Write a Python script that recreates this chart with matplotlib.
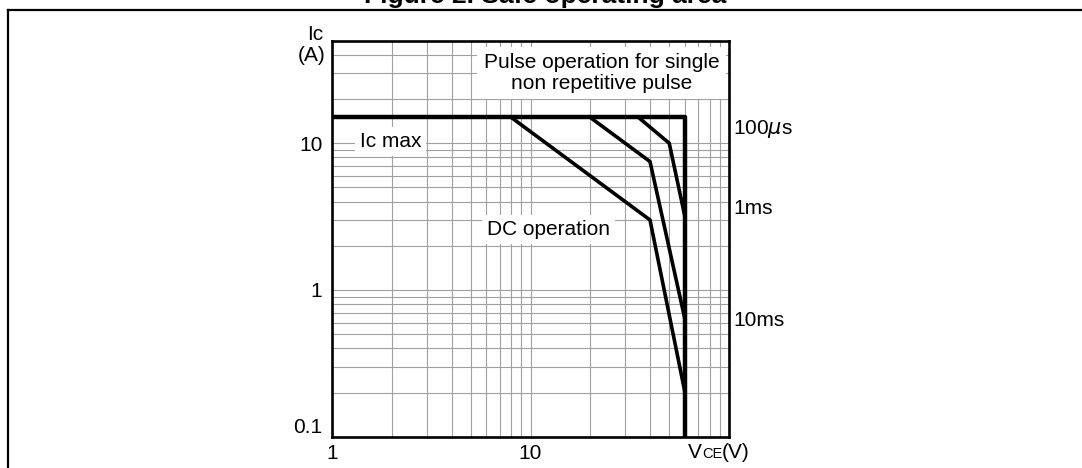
import matplotlib
matplotlib.use('Agg')
import matplotlib.pyplot as plt
from matplotlib.ticker import LogLocator, NullFormatter, FixedLocator, FixedFormatter
from matplotlib.lines import Line2D

plt.rcParams['font.family'] = ['Liberation Sans', 'DejaVu Sans']

# ---- data ----
boundary_v = [1, 60, 60]
boundary_i = [15, 15, 0.1]
dc_v = [8, 40, 60]
dc_i = [15, 3.0, 0.2]
ms1_v = [20, 40, 60]
ms1_i = [15, 7.5, 0.63]
us100_v = [35, 50, 60]
us100_i = [15, 10, 3.15]
x_ticks = [1, 10]
x_ticklabels = ['1', '10']
y_ticks = [0.1, 1, 10]
y_ticklabels = ['0.1', '1', '10']
pulse_labels = ['100$\\mu$s', '1ms', '10ms']
pulse_label_y = [12.5, 3.6, 0.62]

W, H = 1082, 468
fig = plt.figure(figsize=(W / 100, H / 100), dpi=100)
ax = fig.add_axes([332 / W, 1 - 436.7 / H, (729 - 332) / W, (436.7 - 40.7) / H])
ax.set_xscale('log')
ax.set_yscale('log')
ax.set_xlim(1, 100)
ax.set_ylim(0.1, 50)

ax.xaxis.set_major_locator(FixedLocator(x_ticks))
ax.xaxis.set_major_formatter(FixedFormatter(x_ticklabels))
ax.yaxis.set_major_locator(FixedLocator(y_ticks))
ax.yaxis.set_major_formatter(FixedFormatter(y_ticklabels))
for axis in (ax.xaxis, ax.yaxis):
    axis.set_minor_locator(LogLocator(base=10, subs=range(2, 10)))
    axis.set_minor_formatter(NullFormatter())
ax.tick_params(which='both', length=0, labelsize=15)
ax.tick_params(axis='x', pad=5)
ax.tick_params(axis='y', pad=7)
ax.get_yticklabels()[0].set_va('bottom')

ax.grid(which='both', color='#a0a0a0', lw=0.8)
ax.set_axisbelow(True)
for s in ax.spines.values():
    s.set_linewidth(1.9)
    s.set_color('black')

ax.plot(boundary_v, boundary_i, color='black', lw=3.2, solid_joinstyle='round', zorder=5)
for v, i in ((dc_v, dc_i), (ms1_v, ms1_i), (us100_v, us100_i)):
    ax.plot(v, i, color='black', lw=2.6, solid_joinstyle='miter', zorder=5)

box = dict(facecolor='white', edgecolor='none', pad=3.6)
ax.text(1.38, 10.3, 'Ic max', fontsize=15, ha='left', va='center', bbox=box, zorder=4)
ax.text(12.35, 2.58, 'DC operation', fontsize=15, ha='center', va='center', bbox=box, zorder=4)
ax.text(22.8, 30.1, 'Pulse operation for single\nnon repetitive pulse', fontsize=15,
        ha='center', va='center', linespacing=1.15,
        bbox=dict(facecolor='white', edgecolor='none', pad=4.5), zorder=4)

trans = ax.get_yaxis_transform()
for lab, yv in zip(pulse_labels, pulse_label_y):
    ax.text(1 + 4 / 397, yv, lab, fontsize=15, ha='left', va='center',
            transform=trans, clip_on=False)

# y-axis label
fig.text(314.8 / W, 1 - 40 / H, 'Ic', fontsize=15, ha='center', va='baseline')
fig.text(311.7 / W, 1 - 61 / H, '(A)', fontsize=15, ha='center', va='baseline')

# x-axis label  V CE (V)
yb = 1 - 458 / H
t1 = fig.text(688 / W, yb, 'V', fontsize=15, ha='left', va='baseline')
t2 = ax.annotate('CE', xy=(1, yb), xycoords=(t1, 'figure fraction'), fontsize=10.5,
                 ha='left', va='baseline', annotation_clip=False)
t3 = ax.annotate('(V)', xy=(1, yb), xycoords=(t2, 'figure fraction'), fontsize=15,
                 ha='left', va='baseline', annotation_clip=False)

# title (cut at top) and frame
fig.text(545 / W, 1 - 3 / H, 'Figure 2. Safe operating area', fontsize=19,
         fontweight='bold', ha='center', va='baseline')
fig.add_artist(Line2D([7.7 / W, 7.7 / W], [0, 1 - 10.3 / H], transform=fig.transFigure,
                      color='black', lw=1.6))
fig.add_artist(Line2D([7.7 / W, 1], [1 - 10.3 / H, 1 - 10.3 / H], transform=fig.transFigure,
                      color='black', lw=1.6, solid_capstyle='projecting'))

fig.savefig('out.png', dpi=100)
